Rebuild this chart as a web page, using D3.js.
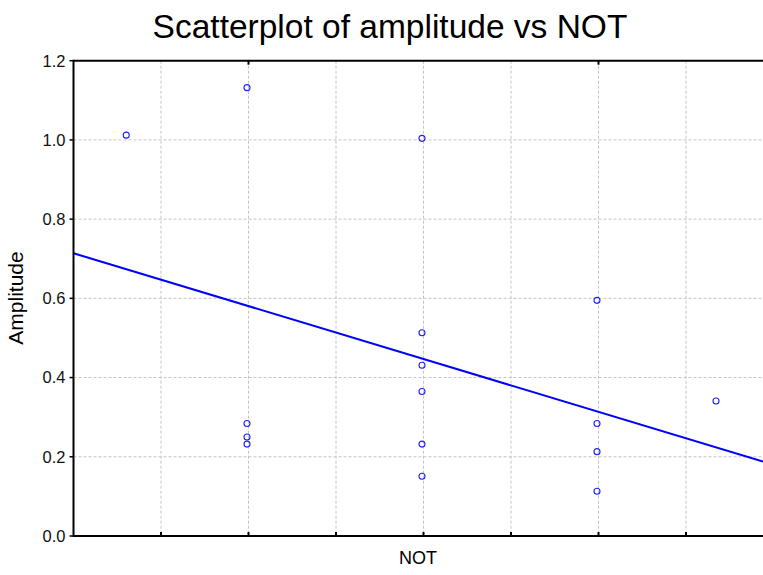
<!DOCTYPE html>
<html><head><meta charset="utf-8">
<script src="https://cdn.jsdelivr.net/npm/d3@7"></script>
<style>body{margin:0;background:#fff}svg{display:block}text{font-family:"Liberation Sans",Arial,sans-serif}</style>
</head><body><svg id="c" width="763" height="575"></svg>
<script>
const notValues = [0.62, 2, 2, 2, 2, 4, 4, 4, 4, 4, 4, 6, 6, 6, 6, 7.36];
const amplitude = [1.012, 1.132, 0.284, 0.250, 0.232, 1.004, 0.513, 0.431, 0.365, 0.232, 0.151, 0.595, 0.284, 0.213, 0.113, 0.341];
const yTicks = [0, 0.2, 0.4, 0.6, 0.8, 1.0, 1.2];
const xGrid = [1, 2, 3, 4, 5, 6, 7];
const xTopTicks = [2, 6];

const svg = d3.select("#c");
const L = 73.5, T = 60.7, B = 536;
const x = d3.scaleLinear().domain([0, 8]).range([L, L + 8 * 87.5]);
const y = d3.scaleLinear().domain([0, 1.2]).range([B, T]);
const R = 763;

// grid
svg.append("g").selectAll("line").data(yTicks.slice(1, -1)).join("line")
  .attr("x1", L).attr("x2", R).attr("y1", d => y(d)).attr("y2", d => y(d))
  .attr("stroke", "#c4c4c4").attr("stroke-width", 1).attr("stroke-dasharray", "3,2");
svg.append("g").selectAll("line").data(xGrid).join("line")
  .attr("x1", d => x(d)).attr("x2", d => x(d)).attr("y1", T).attr("y2", B)
  .attr("stroke", "#c4c4c4").attr("stroke-width", 1).attr("stroke-dasharray", "3,2");

// regression
const n = notValues.length;
const mx = d3.mean(notValues), my = d3.mean(amplitude);
let sxy = 0, sxx = 0;
for (let i = 0; i < n; i++) { sxy += (notValues[i] - mx) * (amplitude[i] - my); sxx += (notValues[i] - mx) ** 2; }
const slope = sxy / sxx, icpt = my - slope * mx;
const x0 = 0, x1 = x.invert(R);
svg.append("line").attr("x1", x(x0)).attr("y1", y(icpt + slope * x0))
  .attr("x2", x(x1)).attr("y2", y(icpt + slope * x1))
  .attr("stroke", "#0000ff").attr("stroke-width", 2);

// points
svg.append("g").selectAll("circle").data(notValues.map((v, i) => [v, amplitude[i]])).join("circle")
  .attr("cx", d => x(d[0]) - 1.5).attr("cy", d => y(d[1])).attr("r", 3)
  .attr("fill", "none").attr("stroke", "#2020ff").attr("stroke-width", 1.1);

// frame
svg.append("line").attr("x1", L).attr("x2", R).attr("y1", T).attr("y2", T).attr("stroke", "#000").attr("stroke-width", 2);
svg.append("line").attr("x1", L).attr("x2", R).attr("y1", B).attr("y2", B).attr("stroke", "#000").attr("stroke-width", 2);
svg.append("line").attr("x1", L).attr("x2", L).attr("y1", T - 1).attr("y2", B + 1).attr("stroke", "#000").attr("stroke-width", 2);

// y axis ticks and labels
const ya = svg.append("g");
ya.selectAll("line").data(yTicks).join("line")
  .attr("x1", L - 4).attr("x2", L).attr("y1", d => y(d)).attr("y2", d => y(d)).attr("stroke", "#000").attr("stroke-width", 1.5);
ya.selectAll("text").data(yTicks).join("text")
  .attr("x", L - 8).attr("y", d => y(d) + 5.8).attr("text-anchor", "end")
  .attr("font-size", 16.5).attr("fill", "#111").text(d => d.toFixed(1));

// x ticks
svg.append("g").selectAll("line").data(xGrid).join("line")
  .attr("x1", d => x(d)).attr("x2", d => x(d)).attr("y1", B - 4).attr("y2", B).attr("stroke", "#000").attr("stroke-width", 2);
svg.append("g").selectAll("line").data(xTopTicks).join("line")
  .attr("x1", d => x(d)).attr("x2", d => x(d)).attr("y1", T).attr("y2", T + 4).attr("stroke", "#000").attr("stroke-width", 2);

// titles
svg.append("text").attr("x", 390).attr("y", 37.5).attr("text-anchor", "middle")
  .attr("font-size", 33.5).attr("fill", "#000").text("Scatterplot of amplitude vs NOT");
svg.append("text").attr("x", 418).attr("y", 564).attr("text-anchor", "middle")
  .attr("font-size", 18).attr("fill", "#000").text("NOT");
svg.append("text").attr("transform", "translate(23,298) rotate(-90)").attr("text-anchor", "middle")
  .attr("font-size", 21).attr("fill", "#000").text("Amplitude");
</script></body></html>
